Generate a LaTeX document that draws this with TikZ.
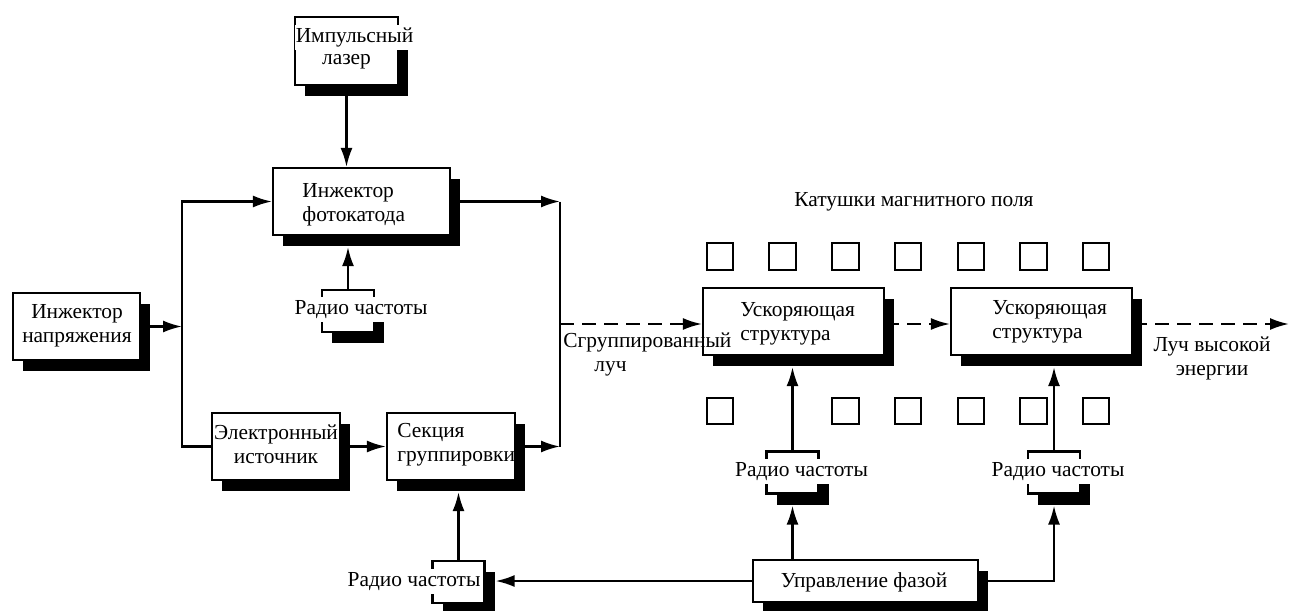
\documentclass[tikz,border=0pt]{standalone}
\usepackage{fontspec}
\setmainfont{Liberation Serif}
\usetikzlibrary{arrows.meta,positioning,calc,shadows}

\begin{document}
\begin{tikzpicture}[x=0.5pt, y=-0.5pt,
  font=\fontsize{10.7}{12}\selectfont,
  blk/.style={draw, line width=1.1pt, fill=white, inner sep=0pt,
    drop shadow={shadow xshift=5pt, shadow yshift=-5.5pt, fill=black, opacity=1}},
  txt/.style={inner sep=0pt, align=center},
  rftxt/.style={fill=white, inner xsep=1pt, inner ysep=0.75pt, text height=8pt, text depth=3pt},
  arr/.style={line width=1.1pt, -{Latex[length=9.5pt, width=6pt]}},
  beam/.style={arr, dash pattern=on 7pt off 4pt},
  coil/.style={draw, line width=1pt, minimum size=13.25pt, inner sep=0pt}]
\useasboundingbox (0,0) rectangle (1289,610);

% Blocks (empty frames with drop shadow)
\node[blk, minimum width=63.5pt, minimum height=33.5pt] (volt)  at (76.5,326.5) {};
\node[blk, minimum width=51.5pt, minimum height=34pt]   (laser) at (346.5,51) {};
\node[blk, minimum width=88.5pt, minimum height=33.5pt] (inj)   at (361.5,201.5) {};
\node[blk, minimum width=64pt,   minimum height=33.5pt] (esrc)  at (276,446.5) {};
\node[blk, minimum width=64pt,   minimum height=33.5pt] (bunch) at (451,446.5) {};
\node[blk, minimum width=90.5pt, minimum height=33.5pt] (acc1)  at (793.5,321.5) {};
\node[blk, minimum width=90.5pt, minimum height=33.5pt] (acc2)  at (1041.5,321.5) {};
\node[blk, minimum width=112.5pt,minimum height=21pt]   (phase) at (865.5,581) {};

% RF sources (narrow frames, text laid over them)
\node[blk, minimum width=26pt, minimum height=21pt] (rf1) at (348,311) {};
\node[blk, minimum width=26pt, minimum height=21pt] (rf2) at (792.5,472.5) {};
\node[blk, minimum width=26pt, minimum height=21pt] (rf3) at (1054,472.5) {};
\node[blk, minimum width=26pt, minimum height=21pt] (rfb) at (458.5,582) {};

% Texts
\node[txt] (volt-t) at (77,325.5) {Инжектор\\напряжения};
\node[txt, rftxt, inner xsep=0.5pt] (laser-t1) at (354.5,38) {Импульсный};
\node[txt] (laser-t2) at (346.5,62) {лазер};
\node[txt, anchor=west, align=left] (inj-t) at (302,204.5) {Инжектор\\фотокатода};
\node[txt] (esrc-t) at (276,444.5) {Электронный\\источник};
\node[txt, anchor=west, align=left] (bunch-t) at (397,444.5) {Секция\\группировки};
\node[txt, anchor=west, align=left] (acc1-t) at (740,323.5) {Ускоряющая\\структура};
\node[txt, anchor=west, align=left] (acc2-t) at (992,321.5) {Ускоряющая\\структура};
\node[txt] (phase-t) at (864,582) {Управление фазой};
\node[txt, rftxt] (rf1-t) at (361,309) {Радио частоты};
\node[txt, rftxt] (rf2-t) at (801.5,471.5) {Радио частоты};
\node[txt, rftxt] (rf3-t) at (1058,471.5) {Радио частоты};
\node[txt, rftxt] (rfb-t) at (414,581.5) {Радио частоты};
\node[txt, anchor=west, align=left] (bunched) at (563,354) {Сгруппированный\\\hspace*{15.5pt}луч};
\node[txt] (highE) at (1212,358) {Луч высокой\\энергии};
\node[txt] (coils) at (914,202) {Катушки магнитного поля};

% Magnetic field coils
\foreach \i in {1,...,7}
  \node[coil] (ct\i) at ({720+(\i-1)*62.7},256.5) {};
\foreach \i in {1,3,4,5,6,7}
  \node[coil] (cb\i) at ({720+(\i-1)*62.7},411) {};

% Bus lines and beam line
\coordinate (busL) at (182,0);
\coordinate (busR) at (560,0);
\coordinate (beam) at (0,324);
\coordinate (beamout) at (1289,324);

% Connections
\draw[arr] (laser.south) -- (laser.south |- inj.north);
\draw[arr] (volt.east) -- (volt.east -| busL);
\draw[arr, {Latex[length=9.5pt, width=6pt]}-] (inj.west) -| (busL |- esrc.west) -- (esrc.west);
\draw[arr] (inj.east) -- (inj.east -| busR);
\draw[arr] (bunch.east) -- (bunch.east -| busR);
\draw[line width=1.1pt] (inj.east -| busR) -- (bunch.east -| busR);
\draw[arr] (esrc.east) -- (bunch.west);
\draw[arr, shorten >=5.5pt] (rf1.north) -- (rf1.north |- inj.south);
\draw[arr, shorten >=5.5pt] (rfb.north) -- (rfb.north |- bunch.south);
\draw[arr, shorten >=5pt] (phase.west) -- (phase.west -| rfb.east);
\draw[arr, shorten >=5.5pt] (rf2.south |- phase.north) -- (rf2.south);
\draw[arr, shorten >=5.5pt] (rf2.north) -- (rf2.north |- acc1.south);
\draw[arr, shorten >=5.5pt] (phase.east) -| (rf3.south);
\draw[arr, shorten >=5.5pt] (rf3.north) -- (rf3.north |- acc2.south);

% Beam
\draw[beam] (busR |- beam) -- (acc1.west |- beam);
\draw[beam] (acc1.east |- beam) -- (acc2.west |- beam);
\draw[beam] (acc2.east |- beam) -- (beamout);
\end{tikzpicture}
\end{document}
